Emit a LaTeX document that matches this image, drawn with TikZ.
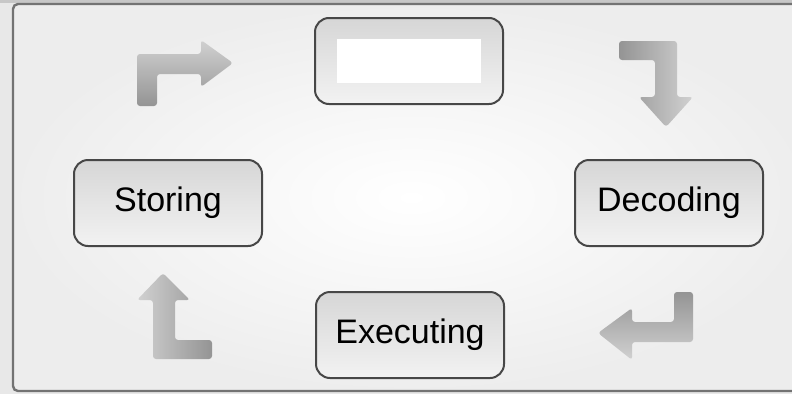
\documentclass[tikz,border=0pt]{standalone}
\usepackage{fontspec}
\setmainfont{Liberation Sans}
\begin{document}
\begin{tikzpicture}[x=1pt, y=-1pt,
    stage/.style={rectangle, rounded corners=14pt, draw=black!72, line width=2pt, minimum width=188pt, minimum height=86pt, top color=black!16, middle color=black!15, bottom color=black!5, font=\fontsize{34}{40}\selectfont},
    slot/.style={rectangle, fill=white, minimum width=144pt, minimum height=44pt, inner sep=0pt},
    turn/.style={rounded corners=3pt}
]
\useasboundingbox (0,0) rectangle (792,394);

% Frame
\fill[black!9] (0,0) rectangle (792,394);
\fill[black!22] (0,0) rectangle (792,3);
\shadedraw[inner color=white, outer color=black!7, draw=black!55, line width=2.4pt, rounded corners=5pt] (13,4) rectangle (810,391);

% Stages
\node[stage] (fetch) at (409,61) {};
\node[slot] (fetchslot) at (fetch) {};
\node[stage] (storing) at (168,203) {Storing};
\node[stage] (decoding) at (669,203) {Decoding};
\node[stage] (executing) at (410,335) {Executing};

% Turn arrows
\shade[turn, top color=black!18, middle color=black!40, bottom color=black!42]
    (137,106) -- (137,54) -- (201,54) -- (201,40) -- (233,63) -- (201,87) -- (201,74) -- (157,74) -- (157,106) -- cycle;
\shade[turn, left color=black!42, middle color=black!40, right color=black!18]
    (619,41) -- (677,41) -- (677,97) -- (693,97) -- (666,127) -- (639,97) -- (655,97) -- (655,60) -- (619,60) -- cycle;
\shade[turn, top color=black!42, middle color=black!40, bottom color=black!18]
    (674,292) -- (693,292) -- (693,342) -- (632,342) -- (632,360) -- (598,333) -- (632,308) -- (632,322) -- (674,322) -- cycle;
\shade[turn, left color=black!18, middle color=black!40, right color=black!42]
    (163,273) -- (190,300) -- (175,300) -- (175,340) -- (212,340) -- (212,359) -- (153,359) -- (153,300) -- (137,300) -- cycle;
\end{tikzpicture}
\end{document}
